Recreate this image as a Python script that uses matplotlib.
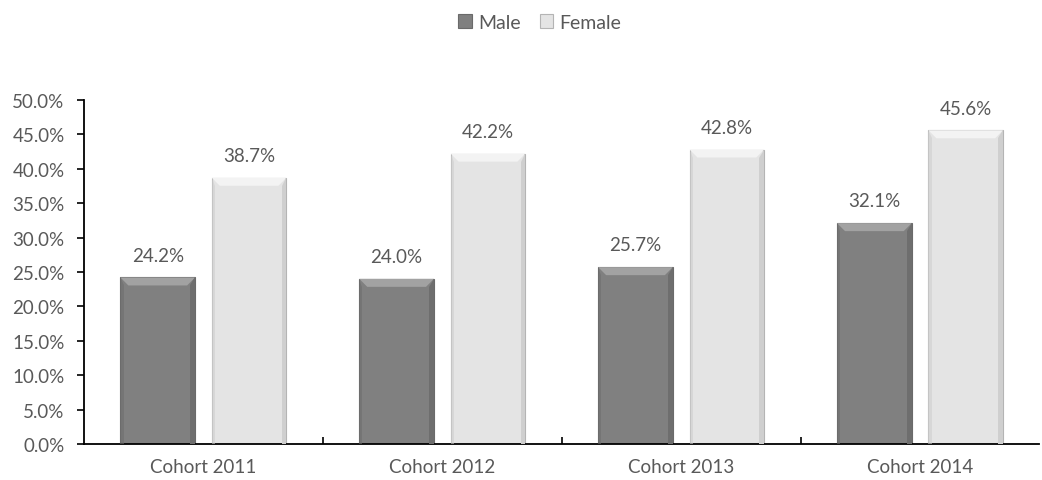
import matplotlib
matplotlib.use("Agg")
import matplotlib.pyplot as plt
from matplotlib.patches import Polygon
from matplotlib.ticker import PercentFormatter, FixedLocator
import numpy as np

# data
cohorts = ["Cohort 2011", "Cohort 2012", "Cohort 2013", "Cohort 2014"]
male = [24.2, 24.0, 25.7, 32.1]
female = [38.7, 42.2, 42.8, 45.6]

plt.rcParams['font.family'] = ['Lato', 'DejaVu Sans']
txt = '#595959'

fig = plt.figure(figsize=(10.42, 4.81), dpi=100)
ax = fig.add_axes([0.0806, 0.075, 0.917, 0.715])

x = np.arange(len(cohorts))
w = 0.3125
gap = 0.07
styles = {
    'Male': dict(face='#808080', top='#a2a2a2', side='#6e6e6e', edge='#6a6a6a'),
    'Female': dict(face='#e4e4e4', top='#f3f3f3', side='#cfcfcf', edge='#b4b4b4'),
}

ax.set_xlim(-0.5, len(cohorts) - 0.5)
ax.set_ylim(0, 50)

# bevel size in data units (~8 px)
bx = 8 / 240.0
by = 8 * 50 / 344.0

handles = []
for vals, name, off in [(male, 'Male', -(w + gap) / 2), (female, 'Female', (w + gap) / 2)]:
    st = styles[name]
    bars = ax.bar(x + off, vals, w, color=st['face'], edgecolor=st['edge'], linewidth=0.8,
                  label=name, zorder=2)
    handles.append(bars)
    for b in bars:
        x0, x1 = b.get_x(), b.get_x() + b.get_width()
        h = b.get_height()
        ax.add_patch(Polygon([(x0, h), (x1, h), (x1 - bx, h - by), (x0 + bx, h - by)],
                             closed=True, facecolor=st['top'], edgecolor='none', zorder=3))
        ax.add_patch(Polygon([(x1, h), (x1, 0), (x1 - bx * 0.6, 0), (x1 - bx * 0.6, h - by)],
                             closed=True, facecolor=st['side'], edgecolor='none', zorder=3))
        ax.add_patch(Polygon([(x0, h), (x0, 0), (x0 + bx * 0.4, 0), (x0 + bx * 0.4, h - by)],
                             closed=True, facecolor=st['side'], edgecolor='none', zorder=3, alpha=0.6))
        ax.text(b.get_x() + w / 2, h + 2.0, f"{h:.1f}%", ha='center', va='bottom',
                fontsize=13.5, color=txt)

for s in ['top', 'right']:
    ax.spines[s].set_visible(False)
ax.spines['left'].set_linewidth(1.3)
ax.spines['bottom'].set_linewidth(1.3)

ax.set_yticks(np.arange(0, 50.1, 5))
ax.yaxis.set_major_formatter(PercentFormatter(decimals=1))
ax.tick_params(axis='y', direction='out', length=5, width=1.2, labelsize=13.5, labelcolor=txt, pad=9)

ax.set_xticks(x)
ax.set_xticklabels(cohorts)
ax.tick_params(axis='x', which='major', length=0, labelsize=13.5, labelcolor=txt, pad=10)
ax.xaxis.set_minor_locator(FixedLocator(x[:-1] + 0.5))
ax.tick_params(axis='x', which='minor', direction='in', length=5, width=1.2)

fig.legend(handles=handles, labels=['Male', 'Female'], loc='upper center',
           bbox_to_anchor=(0.518, 1.005), ncol=2, frameon=False, fontsize=14,
           labelcolor=txt, handlelength=0.7, handleheight=0.7, handletextpad=0.3,
           columnspacing=1.0)

fig.savefig('out.png', dpi=100)
